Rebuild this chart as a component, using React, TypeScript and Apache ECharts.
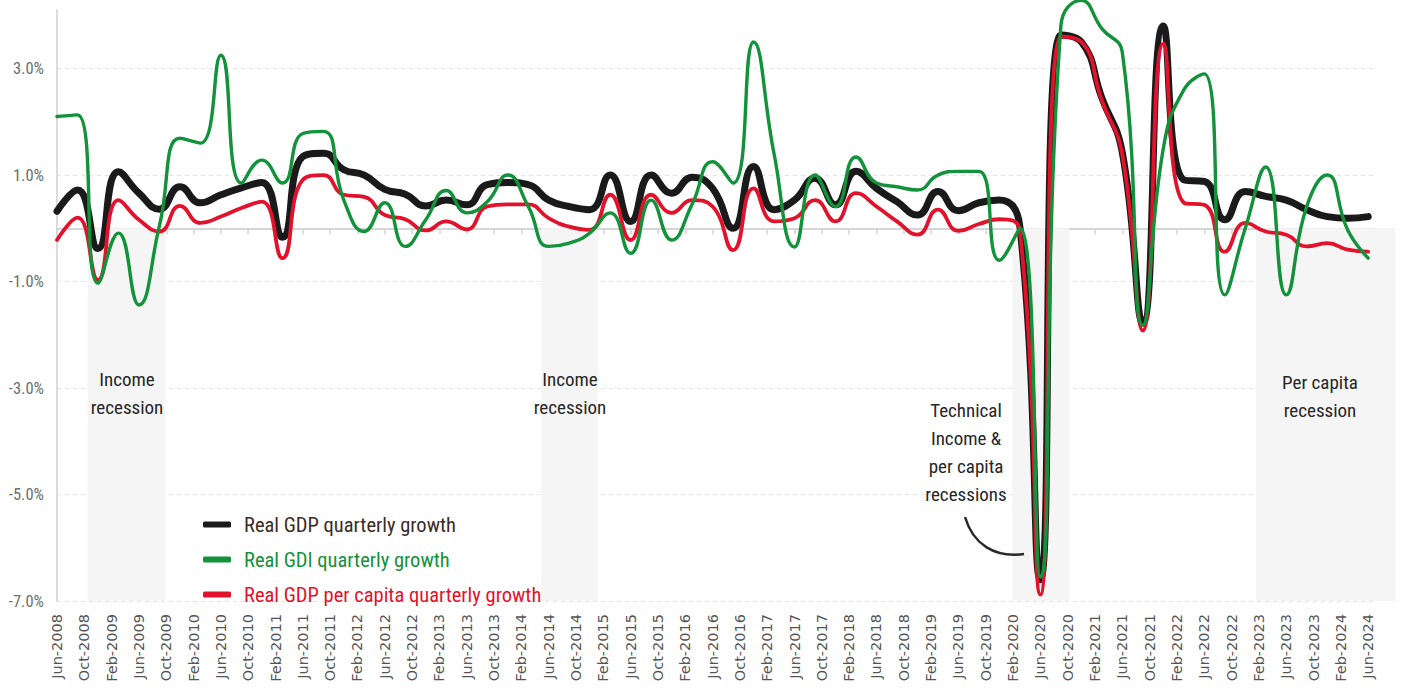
import React, { useEffect, useRef } from 'react';
import * as echarts from 'echarts';

// Tick labels every 4 months from Jun-2008 to Jun-2024
const tickLabels = [
  'Jun-2008', 'Oct-2008', 'Feb-2009', 'Jun-2009', 'Oct-2009', 'Feb-2010', 'Jun-2010', 'Oct-2010',
  'Feb-2011', 'Jun-2011', 'Oct-2011', 'Feb-2012', 'Jun-2012', 'Oct-2012', 'Feb-2013', 'Jun-2013',
  'Oct-2013', 'Feb-2014', 'Jun-2014', 'Oct-2014', 'Feb-2015', 'Jun-2015', 'Oct-2015', 'Feb-2016',
  'Jun-2016', 'Oct-2016', 'Feb-2017', 'Jun-2017', 'Oct-2017', 'Feb-2018', 'Jun-2018', 'Oct-2018',
  'Feb-2019', 'Jun-2019', 'Oct-2019', 'Feb-2020', 'Jun-2020', 'Oct-2020', 'Feb-2021', 'Jun-2021',
  'Oct-2021', 'Feb-2022', 'Jun-2022', 'Oct-2022', 'Feb-2023', 'Jun-2023', 'Oct-2023', 'Feb-2024',
  'Jun-2024',
];

// Quarterly observations, Q2 2008 .. Q2 2024 (one every 3 months after Jun-2008)
const gdp = [
  0.32, 0.72, -0.38, 1.06, 0.66, 0.36, 0.78, 0.48, 0.63, 0.76,
  0.86, -0.17, 1.35, 1.41, 1.1, 1.0, 0.73, 0.64, 0.42, 0.53,
  0.44, 0.82, 0.86, 0.82, 0.53, 0.41, 0.35, 1.0, 0.13, 1.0,
  0.66, 0.96, 0.75, 0.0, 1.16, 0.35, 0.53, 0.94, 0.44, 1.07,
  0.75, 0.5, 0.25, 0.69, 0.33, 0.48, 0.53, 0.03, -6.6, 3.63,
  3.5, 2.45, 1.42, -1.78, 3.8, 0.91, 0.88, 0.16, 0.69, 0.6,
  0.53, 0.35, 0.22, 0.19, 0.22,
];
const gdi = [
  2.1, 2.13, -1.03, -0.09, -1.44, 0.05, 1.69, 1.6, 3.25, 0.85,
  1.28, 0.85, 1.78, 1.82, 0.53, -0.06, 0.48, -0.34, 0.16, 0.71,
  0.29, 0.5, 1.0, 0.41, -0.34, -0.28, -0.09, 0.29, -0.47, 0.53,
  -0.22, 0.45, 1.25, 0.85, 3.5, 1.4, -0.35, 1.0, 0.41, 1.34,
  0.85, 0.78, 0.72, 1.0, 1.07, 1.07, -0.6, 0.0, -6.55, 3.8,
  4.28, 3.75, 3.3, -1.82, 1.5, 2.6, 2.9, -1.25, 0.0, 1.15,
  -1.25, 0.41, 1.0, -0.03, -0.56,
];
const gdpPerCapita = [
  -0.22, 0.2, -0.97, 0.53, 0.16, -0.06, 0.42, 0.1, 0.22, 0.38,
  0.5, -0.56, 0.91, 1.0, 0.63, 0.59, 0.25, 0.17, -0.04, 0.13,
  -0.02, 0.41, 0.45, 0.45, 0.19, 0.03, -0.03, 0.63, -0.22, 0.63,
  0.29, 0.53, 0.41, -0.41, 0.75, 0.13, 0.19, 0.53, 0.13, 0.66,
  0.41, 0.13, -0.12, 0.35, -0.05, 0.08, 0.17, -0.05, -6.88, 3.6,
  3.5, 2.4, 1.38, -1.92, 3.47, 0.48, 0.44, -0.44, 0.1, -0.06,
  -0.12, -0.34, -0.28, -0.4, -0.44,
];

// Shaded recession bands, in months after Jun-2008
const bandStart = [4.5, 70.9, 139.9, 175.6];
const bandEnd = [15.8, 79.2, 148.2, 196.0];

const seriesNames = [
  'Real GDP quarterly growth',
  'Real GDI quarterly growth',
  'Real GDP per capita quarterly growth',
];

const NARROW =
  "'Roboto Condensed', 'Noto Sans Condensed', 'DejaVu Sans Condensed', 'Open Sans Condensed', Roboto, sans-serif";
const BLACK = '#1b1a1a';
const GREEN = '#12923a';
const RED = '#e3122c';

const toPoints = (arr: number[]) => arr.map((v, i) => [i * 3, v]);

export default function App() {
  const ref = useRef<HTMLDivElement>(null);

  useEffect(() => {
    if (!ref.current) return;
    const chart = echarts.init(ref.current, null, { renderer: 'svg' });

    const annotation = (x: number, y: number, text: string) => ({
      type: 'text',
      x,
      y,
      silent: true,
      z: 50,
      style: {
        text,
        fill: '#262626',
        font: `19px ${NARROW}`,
        textAlign: 'center',
        textVerticalAlign: 'middle',
        lineHeight: 28,
      },
    });

    const option: any = {
      animation: false,
      backgroundColor: '#ffffff',
      grid: { left: 57, right: 27, top: 10, bottom: 96, containLabel: false },
      legend: {
        orient: 'vertical',
        left: 198,
        top: 507,
        itemWidth: 28,
        itemHeight: 6,
        itemGap: 10,
        icon: 'roundRect',
        selectedMode: false,
        textStyle: { fontFamily: NARROW, fontSize: 20.5, lineHeight: 25, padding: [0, 0, 0, 8] },
        data: [
          { name: seriesNames[0], textStyle: { color: '#3b2b27' } },
          { name: seriesNames[1], textStyle: { color: GREEN } },
          { name: seriesNames[2], textStyle: { color: RED } },
        ],
      },
      xAxis: [
        {
          type: 'value',
          min: 0,
          max: 193,
          interval: 4,
          position: 'bottom',
          axisLine: { show: false, onZero: false },
          axisTick: { show: false },
          splitLine: { show: false },
          axisLabel: {
            rotate: 90,
            margin: 13,
            color: '#555555',
            fontFamily: 'DejaVu Sans',
            fontSize: 14.5,
            formatter: (v: number) => (v % 4 === 0 ? tickLabels[v / 4] ?? '' : ''),
          },
        },
        {
          type: 'value',
          min: 0,
          max: 193,
          interval: 4,
          position: 'top',
          axisLine: { show: true, onZero: true, lineStyle: { color: '#d5d5d5', width: 2 } },
          axisTick: { show: true, inside: true, length: 6, lineStyle: { color: '#d5d5d5', width: 1.5 } },
          axisLabel: { show: false },
          splitLine: { show: false },
        },
      ],
      yAxis: {
        type: 'value',
        min: -7,
        max: 4.1,
        interval: 2,
        axisLine: { show: true, onZero: false, lineStyle: { color: '#d0d0d0', width: 1.5 } },
        axisTick: { show: false },
        axisLabel: {
          showMaxLabel: false,
          color: '#6e6e6e',
          fontFamily: NARROW,
          fontSize: 16.5,
          margin: 13,
          formatter: (v: number) => `${v.toFixed(1)}%`,
        },
        splitLine: {
          show: true,
          showMaxLine: false,
          lineStyle: { type: [4, 4], color: '#e4e4e4', width: 1 },
        },
      },
      series: [
        {
          type: 'custom',
          silent: true,
          z: 1,
          xAxisIndex: 0,
          yAxisIndex: 0,
          clip: false,
          data: bandStart.map((s, i) => [s, bandEnd[i]]),
          encode: { x: [0, 1] },
          renderItem: (_p: any, api: any) => {
            const a = api.coord([api.value(0), 0]);
            const b = api.coord([api.value(1), -7]);
            return {
              type: 'rect',
              shape: { x: a[0], y: a[1], width: b[0] - a[0], height: b[1] - a[1] },
              style: { fill: '#f5f5f5' },
            };
          },
        },
        {
          name: seriesNames[0],
          type: 'line',
          data: toPoints(gdp),
          smooth: 0.5,
          showSymbol: false,
          symbol: 'none',
          clip: false,
          z: 3,
          itemStyle: { color: BLACK },
          lineStyle: { color: BLACK, width: 7, cap: 'round', join: 'round' },
        },
        {
          name: seriesNames[2],
          type: 'line',
          data: toPoints(gdpPerCapita),
          smooth: 0.5,
          showSymbol: false,
          symbol: 'none',
          clip: false,
          z: 4,
          itemStyle: { color: RED },
          lineStyle: { color: RED, width: 3.8, cap: 'round', join: 'round' },
        },
        {
          name: seriesNames[1],
          type: 'line',
          data: toPoints(gdi),
          smooth: 0.5,
          showSymbol: false,
          symbol: 'none',
          clip: false,
          z: 5,
          itemStyle: { color: GREEN },
          lineStyle: { color: GREEN, width: 3.4, cap: 'round', join: 'round' },
        },
      ],
      graphic: [
        annotation(127, 393, 'Income\nrecession'),
        annotation(570, 393, 'Income\nrecession'),
        annotation(966, 452, 'Technical\nIncome &\nper capita\nrecessions'),
        annotation(1320, 396, 'Per capita\nrecession'),
        {
          type: 'bezierCurve',
          silent: true,
          z: 50,
          shape: { x1: 965, y1: 517, cpx1: 973, cpy1: 544, cpx2: 994, cpy2: 558, x2: 1024, y2: 554 },
          style: { stroke: '#2a2a2a', lineWidth: 2.5, fill: 'none' },
        },
      ],
    };

    chart.setOption(option);
    return () => chart.dispose();
  }, []);

  return (
    <div
      ref={ref}
      style={{ position: 'fixed', left: 0, top: 0, width: 1402, height: 697, background: '#fff' }}
    />
  );
}
